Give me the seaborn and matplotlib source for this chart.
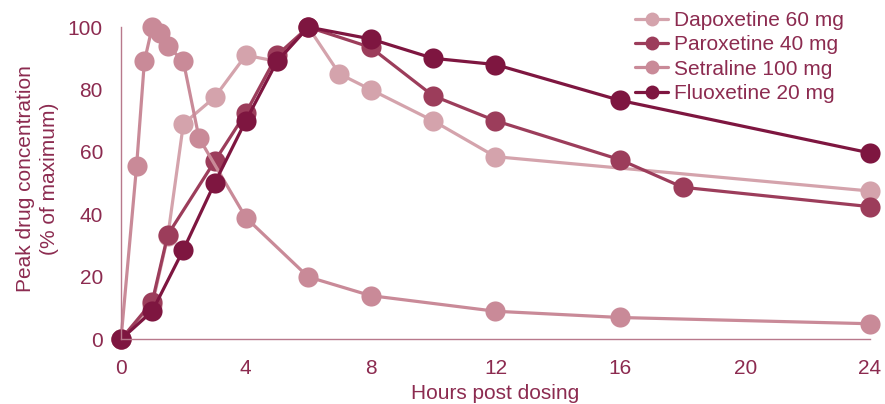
import matplotlib
matplotlib.use("Agg")
import matplotlib.pyplot as plt
import seaborn as sns
import pandas as pd

# Time-concentration profiles, normalised to each drug's peak
dapoxetine_hours = [0, 1, 1.5, 2, 3, 4, 5, 6, 7, 8, 10, 12, 24]
dapoxetine_pct = [0, 11, 33, 69, 77.5, 91, 89, 100, 85, 80, 70, 58.5, 47.5]

paroxetine_hours = [0, 1, 1.5, 3, 4, 5, 6, 8, 10, 12, 16, 18, 24]
paroxetine_pct = [0, 12, 33.5, 57, 72.5, 91, 100, 93.5, 78, 70, 57.5, 48.7, 42.5]

setraline_hours = [0, 0.5, 0.75, 1, 1.25, 1.5, 2, 2.5, 4, 6, 8, 12, 16, 24]
setraline_pct = [0, 55.5, 89, 100, 98, 94, 89, 64.5, 39, 20, 14, 9, 7, 5]

fluoxetine_hours = [0, 1, 2, 3, 4, 5, 6, 8, 10, 12, 16, 24]
fluoxetine_pct = [0, 9, 28.7, 50, 70, 89, 100, 96.2, 90, 88, 76.5, 59.7]

series_names = ["Dapoxetine 60 mg", "Paroxetine 40 mg", "Setraline 100 mg", "Fluoxetine 20 mg"]
series_colors = ["#d4a3ac", "#9c3d5b", "#c98a98", "#7e1640"]

x_ticks = [0, 4, 8, 12, 16, 20, 24]
y_ticks = [0, 20, 40, 60, 80, 100]

text_color = "#8c2b50"
axis_color = "#b8798c"
font_size = 15

frames = []
for name, hrs, pct in zip(
    series_names,
    [dapoxetine_hours, paroxetine_hours, setraline_hours, fluoxetine_hours],
    [dapoxetine_pct, paroxetine_pct, setraline_pct, fluoxetine_pct],
):
    frames.append(pd.DataFrame({"hours": hrs, "pct": pct, "drug": name}))
df = pd.concat(frames, ignore_index=True)

sns.set_theme(style="white")
plt.rcParams["font.family"] = ["Liberation Sans", "DejaVu Sans"]

fig = plt.figure(figsize=(8.85, 4.04), dpi=100)
ax = fig.add_axes([0.1367, 0.16, 0.8463, 0.773])

for name, color in zip(series_names, series_colors):
    sub = df[df["drug"] == name]
    sns.lineplot(
        data=sub, x="hours", y="pct", ax=ax, color=color, label=name,
        marker="o", markersize=14.5, markeredgewidth=0, linewidth=2.3,
        clip_on=False, sort=False, estimator=None,
    )

ax.set_xlim(0, 24)
ax.set_ylim(0, 100)
ax.set_xticks(x_ticks)
ax.set_yticks(y_ticks)
ax.set_xticklabels([str(t) for t in x_ticks])
ax.set_yticklabels([str(t) for t in y_ticks])

for side in ("top", "right"):
    ax.spines[side].set_visible(False)
for side in ("left", "bottom"):
    ax.spines[side].set_color(axis_color)
    ax.spines[side].set_linewidth(1.0)

ax.tick_params(axis="both", direction="out", width=1.0,
               color=axis_color, labelcolor=text_color, labelsize=font_size)
ax.tick_params(axis="x", length=5.5, pad=9)
ax.tick_params(axis="y", length=6.5, pad=6.5)

ax.set_xlabel("Hours post dosing", color=text_color, fontsize=font_size, labelpad=4)
ax.set_ylabel("Peak drug concentration\n(% of maximum)", color=text_color,
              fontsize=font_size, labelpad=6, linespacing=1.35)
ax.yaxis.label.set_y(0.515)

leg = fig.legend(*ax.get_legend_handles_labels(), loc="upper left",
                 bbox_to_anchor=(0.7175, 0.973), frameon=False,
                 fontsize=font_size, handlelength=1.6, handletextpad=0.25,
                 labelspacing=0.26, borderpad=0, borderaxespad=0)
ax.get_legend().remove()
for txt in leg.get_texts():
    txt.set_color(text_color)
for h in leg.legend_handles:
    h.set_markersize(10)

fig.savefig("out.png", dpi=100)
